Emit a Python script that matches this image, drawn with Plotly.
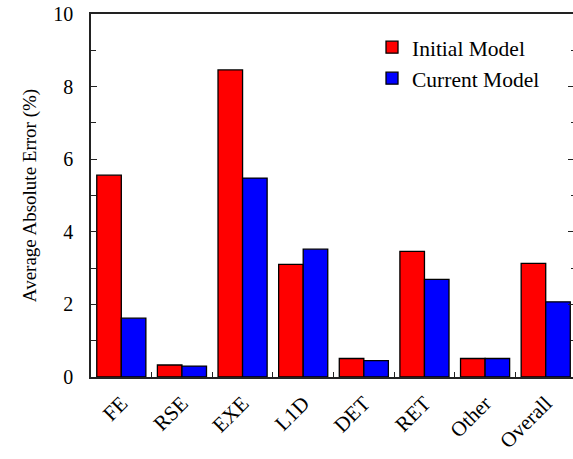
import plotly.graph_objects as go

# Error per pipeline component, in percent
categories = ["FE", "RSE", "EXE", "L1D", "DET", "RET", "Other", "Overall"]
initial_model = [5.56, 0.33, 8.46, 3.10, 0.51, 3.46, 0.51, 3.13]
current_model = [1.62, 0.30, 5.48, 3.52, 0.45, 2.69, 0.51, 2.07]
y_tick_values = [0, 2, 4, 6, 8, 10]

FONT = "Liberation Serif, Times New Roman, serif"
AXIS_COLOR = "#222222"

fig = go.Figure()
fig.add_trace(go.Bar(
    x=categories, y=initial_model, name="Initial Model",
    marker=dict(color="#ff0000", line=dict(color="black", width=1.3)),
))
fig.add_trace(go.Bar(
    x=categories, y=current_model, name="Current Model",
    marker=dict(color="#0000ff", line=dict(color="black", width=1.3)),
))
# invisible trace that carries the right-hand tick marks
fig.add_trace(go.Scatter(
    x=categories, y=current_model, yaxis="y2", mode="markers",
    marker=dict(opacity=0), showlegend=False, hoverinfo="skip",
))

fig.update_layout(
    width=573, height=459,
    margin=dict(l=91, r=0, t=14, b=82),
    paper_bgcolor="white", plot_bgcolor="white",
    font=dict(family=FONT, size=19, color="black"),
    barmode="group", bargap=0.19, bargroupgap=0,
    showlegend=True,
    legend=dict(
        x=0.583, y=0.965, xanchor="left", yanchor="top",
        font=dict(family=FONT, size=21.5), bgcolor="rgba(0,0,0,0)",
        tracegroupgap=0, itemwidth=30,
    ),
    xaxis=dict(
        range=[-0.5, 7.45], showline=True, linecolor=AXIS_COLOR, linewidth=1.5,
        mirror=True, ticks="inside", ticklen=5, tickcolor=AXIS_COLOR,
        tickson="boundaries", tickangle=-45, showgrid=False, zeroline=False,
        ticklabelstandoff=4,
        tickfont=dict(family=FONT, size=21),
    ),
    yaxis=dict(
        range=[0, 10], tickvals=y_tick_values, showline=True,
        linecolor=AXIS_COLOR, linewidth=1.5, ticks="inside", ticklen=6,
        tickcolor=AXIS_COLOR, showgrid=False, zeroline=False,
        minor=dict(dtick=1, ticks="inside", ticklen=5, tickcolor=AXIS_COLOR),
        ticklabelstandoff=12,
        title=dict(text="Average Absolute Error (%)",
                   font=dict(family=FONT, size=19), standoff=12),
        tickfont=dict(family=FONT, size=20),
    ),
    yaxis2=dict(
        range=[0, 10], overlaying="y", side="right", anchor="x",
        tickvals=y_tick_values, showticklabels=False, showline=False,
        ticks="inside", ticklen=5, tickcolor=AXIS_COLOR, showgrid=False,
        zeroline=False,
        minor=dict(dtick=1, ticks="inside", ticklen=2, tickcolor=AXIS_COLOR),
    ),
)

fig.write_html("out.html")
